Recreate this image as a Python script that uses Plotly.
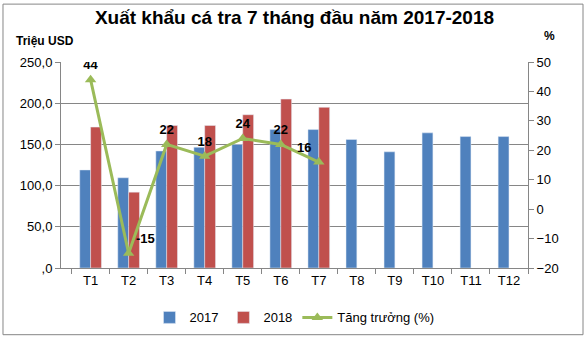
import plotly.graph_objects as go

months = ["T1", "T2", "T3", "T4", "T5", "T6", "T7", "T8", "T9", "T10", "T11", "T12"]
v2017 = [119, 109.5, 142, 146.5, 150, 168, 168, 156, 141, 164, 159.5, 159.5]
v2018 = [171, 92, 173, 173, 186, 205, 195]
growth = [44, -15, 22, 18, 24, 22, 16]
growth_pos = ["top center", "top right", "top center", "top center", "top center", "top center", "top left"]
left_ticks = [0, 50, 100, 150, 200, 250]
left_ticktext = [",0", "50,0", "100,0", "150,0", "200,0", "250,0"]
right_ticks = [-20, -10, 0, 10, 20, 30, 40, 50]

FONT = "Arial, Liberation Sans, sans-serif"
GRID = "#868686"

fig = go.Figure()
fig.add_trace(go.Bar(x=months, y=v2017, name="2017", marker_color="#4F81BD"))
fig.add_trace(go.Bar(x=months[:len(v2018)], y=v2018, name="2018", marker_color="#C0504D"))
fig.add_trace(go.Scatter(
    x=months[:len(growth)], y=growth, name="Tăng trưởng (%)", yaxis="y2",
    mode="lines+markers+text", text=[f"<b>{g}</b>" for g in growth],
    textposition=growth_pos, textfont=dict(size=13, color="black", family=FONT),
    line=dict(color="#9BBB59", width=3),
    marker=dict(symbol="triangle-up", size=10, color="#9BBB59"),
))

fig.update_layout(
    width=587, height=344,
    margin=dict(l=61, r=59, t=62, b=72),
    paper_bgcolor="white", plot_bgcolor="white",
    font=dict(family=FONT, size=13, color="black"),
    barmode="group", bargap=0.43, bargroupgap=0,
    showlegend=True,
    legend=dict(orientation="h", x=0.5, xanchor="center", y=-0.24, yanchor="middle",
                font=dict(size=13), traceorder="normal"),
    title=dict(text="<b>Xuất khẩu cá tra 7 tháng đầu năm 2017-2018</b>",
               x=0.5, xanchor="center", y=0.95, yanchor="middle", xref="paper",
               font=dict(size=19, family=FONT)),
    xaxis=dict(showline=True, linecolor=GRID, ticks="outside", tickson="boundaries",
               ticklen=5, tickcolor=GRID, showgrid=False, tickfont=dict(size=13)),
    yaxis=dict(range=[0, 250], tickvals=left_ticks, ticktext=left_ticktext,
               showgrid=True, gridcolor=GRID, gridwidth=1, showline=True, linecolor=GRID,
               ticks="outside", ticklen=5, tickcolor=GRID, zeroline=False),
    yaxis2=dict(range=[-20, 50], tickvals=right_ticks, overlaying="y", side="right",
                showgrid=False, showline=True, linecolor=GRID, ticks="outside",
                ticklen=5, tickcolor=GRID, zeroline=False),
    annotations=[
        dict(text="<b>Triệu USD</b>", xref="paper", yref="paper", x=-0.1, y=1.10,
             xanchor="left", yanchor="middle", showarrow=False, font=dict(size=12)),
        dict(text="<b>%</b>", xref="paper", yref="paper", x=1.03, y=1.124,
             xanchor="left", yanchor="middle", showarrow=False, font=dict(size=12)),
    ],
    shapes=[dict(type="rect", xref="paper", yref="paper", x0=-0.1242, x1=1.1178,
                 y0=-0.3238, y1=1.281, line=dict(color="#868686", width=1))],
)

fig.write_html("out.html")
